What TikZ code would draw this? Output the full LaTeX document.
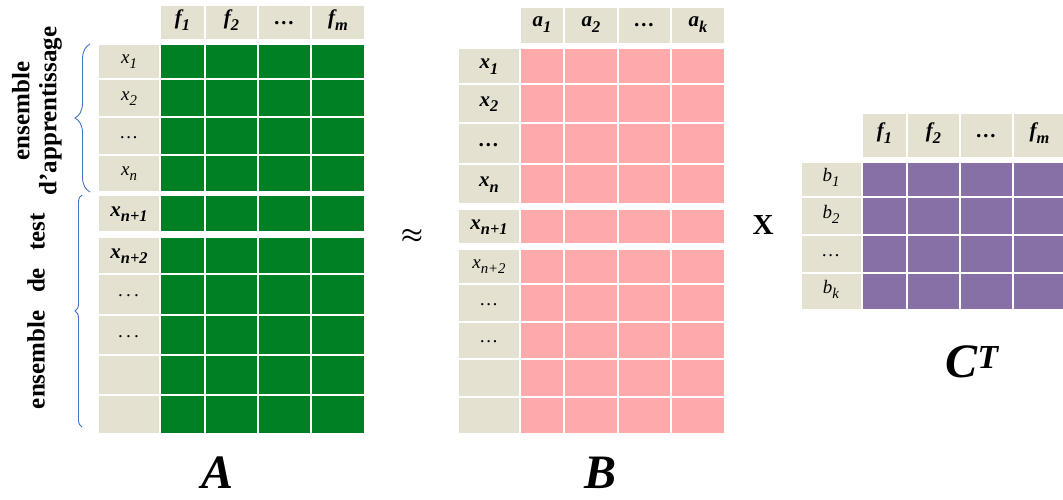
\documentclass[tikz,border=0pt]{standalone}
\usepackage{fontspec}
\setmainfont{Liberation Serif}
\usetikzlibrary{decorations.pathreplacing}
\definecolor{labelbg}{RGB}{228,225,208}
\definecolor{agreen}{RGB}{0,128,36}
\definecolor{bpink}{RGB}{255,170,170}
\definecolor{cpurple}{RGB}{135,112,166}
\definecolor{bracecol}{RGB}{68,114,196}
\newcommand\sbs[1]{\raisebox{-0.28em}{\scalebox{0.78}{#1}}}
\tikzset{
	cell/.style={draw=white, line width=1.5pt},
	lab/.style={font=\fontsize{19}{19}\selectfont\itshape, text height=9pt, text depth=5pt},
	blab/.style={font=\fontsize{21}{21}\selectfont\bfseries\itshape, text height=10pt, text depth=5pt},
	bigname/.style={font=\fontsize{48}{48}\selectfont\bfseries\itshape, inner sep=0pt},
	sidetext/.style={rotate=90, align=center, font=\fontsize{25}{27}\selectfont\bfseries},
	setbrace/.style={draw=bracecol, line width=0.9pt, decorate}
}

\begin{document}
\begin{tikzpicture}[x=1pt, y=-1pt]
		%%%%% START %%%%%
		\useasboundingbox (0,0) rectangle (1063,499);
		
		% matrix A
		\foreach \xa/\xb/\t [count=\i] in {160/205/{f\sbs{1}}, 205/258/{f\sbs{2}}, 258/311/{…}, 311/365/{f\sbs{m}}}{
			\draw[cell, fill=labelbg] (\xa,5) rectangle (\xb,40);
			\node[blab] (A-h\i) at ({(\xa+\xb)/2},22) {\t};
		}
		\foreach \ya/\yb/\s/\t [count=\i] in {44/79/lab/{x\sbs{1}}, 79/117/lab/{x\sbs{2}}, 117/155/lab/{…}, 155/192/lab/{x\sbs{n}}, 195/232/blab/{x\sbs{n+1}}, 237/274/blab/{x\sbs{n+2}}, 274/315/lab/{.\,.\,.}, 315/355/lab/{.\,.\,.}, 355/395/lab/{}, 395/434/lab/{}}{
			\draw[cell, fill=labelbg] (98,\ya) rectangle (160,\yb);
			\node[\s] (A-x\i) at (129,{(\ya+\yb)/2}) {\t};
			\foreach \xa/\xb in {160/205, 205/258, 258/311, 311/365}
				\draw[cell, fill=agreen] (\xa,\ya) rectangle (\xb,\yb);
		}
		
		% braces and set names
		\draw[setbrace, decoration={brace, amplitude=15pt}] (90,192) -- (90,44);
		\draw[setbrace, decoration={brace, amplitude=7pt}] (82,427) -- (82,195);
		\node[sidetext] (train) at (37,111) {ensemble\\d’apprentissage};
		\node[sidetext] (test) at (36,311) {ensemble\hspace{0.7em}de\hspace{0.7em}test};
		
		\node[font=\fontsize{32}{32}\selectfont\boldmath] (approx) at (412,236) {$\approx$};
		
		% matrix B
		\foreach \xa/\xb/\t [count=\i] in {520/564/{a\sbs{1}}, 564/618/{a\sbs{2}}, 618/671/{…}, 671/725/{a\sbs{k}}}{
			\draw[cell, fill=labelbg] (\xa,7) rectangle (\xb,44);
			\node[blab] (B-h\i) at ({(\xa+\xb)/2},24) {\t};
		}
		\foreach \ya/\yb/\s/\t [count=\i] in {48/84/blab/{x\sbs{1}}, 84/123/blab/{x\sbs{2}}, 123/164/blab/{…}, 164/204/blab/{x\sbs{n}}, 209/244/blab/{x\sbs{n+1}}, 249/284/lab/{x\sbs{n+2}}, 284/322/lab/{…}, 322/359/lab/{…}, 359/397/lab/{}, 397/434/lab/{}}{
			\draw[cell, fill=labelbg] (458,\ya) rectangle (520,\yb);
			\node[\s] (B-x\i) at (489,{(\ya+\yb)/2}) {\t};
			\foreach \xa/\xb in {520/564, 564/618, 618/671, 671/725}
				\draw[cell, fill=bpink] (\xa,\ya) rectangle (\xb,\yb);
		}
		
		\node[font=\fontsize{29}{29}\selectfont\bfseries] (times) at (763,225) {X};
		
		% matrix C transposed
		\foreach \xa/\xb/\t [count=\i] in {862/907/{f\sbs{1}}, 907/960/{f\sbs{2}}, 960/1013/{…}, 1013/1066/{f\sbs{m}}}{
			\draw[cell, fill=labelbg] (\xa,113) rectangle (\xb,158);
			\node[blab] (C-h\i) at ({(\xa+\xb)/2},135) {\t};
		}
		\foreach \ya/\yb/\t [count=\i] in {162/197/{b\sbs{1}}, 197/235/{b\sbs{2}}, 235/273/{…}, 273/310/{b\sbs{k}}}{
			\draw[cell, fill=labelbg] (801,\ya) rectangle (862,\yb);
			\node[lab] (C-b\i) at (831,{(\ya+\yb)/2}) {\t};
			\foreach \xa/\xb in {862/907, 907/960, 960/1013, 1013/1066}
				\draw[cell, fill=cpurple] (\xa,\ya) rectangle (\xb,\yb);
		}
		
		% matrix names
		\node[bigname] (nameA) at (218,473) {A};
		\node[bigname] (nameB) at (601,473) {B};
		\node[bigname] (nameC) at (972,362) {C\textsuperscript{T}};
		
		%%%%% END %%%%%
\end{tikzpicture}
\end{document}
